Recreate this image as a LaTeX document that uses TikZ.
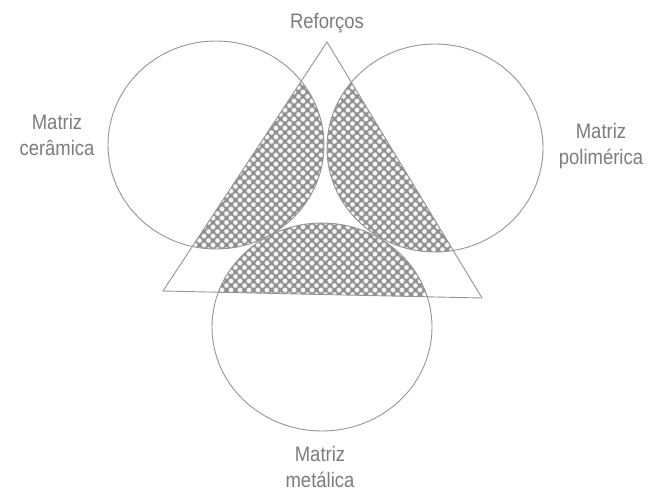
\documentclass[tikz,border=0pt]{standalone}
\usepackage{fontspec}
\newfontfamily\rotfont{Liberation Sans}[FakeStretch=0.88]
\usetikzlibrary{positioning}
\definecolor{linha}{HTML}{959595}
\definecolor{texto}{HTML}{7C7C7C}
\definecolor{trama}{HTML}{8E8E8E}
\tikzset{
  contorno/.style={draw=linha, line width=0.9pt},
  rotulo/.style={
    font=\rotfont\fontsize{21}{26}\selectfont,
    text=texto, align=center, inner sep=0pt,
  },
  bolinha/.style={fill=white!94!gray, draw=gray!70, line width=0.35pt},
}

\begin{document}
\begin{tikzpicture}[x=1pt, y=-1pt]
  \useasboundingbox (0,0) rectangle (651,491);

  % triangulo e centros das matrizes
  \coordinate (apice) at (327,42);
  \coordinate (baseE) at (163,291);
  \coordinate (baseD) at (482,298);
  \coordinate (cer) at (216,145);
  \coordinate (pol) at (435,148);
  \coordinate (met) at (322,327);

  % areas hachuradas
  \begin{scope}
    \clip (apice) -- (baseE) -- (baseD) -- cycle;
    \clip (cer) ellipse [x radius=108, y radius=104]
          (pol) ellipse [x radius=108, y radius=104]
          (met) ellipse [x radius=110, y radius=104];
    \fill[trama] (100,35) rectangle (550,305);
    \foreach \i in {0,...,50}
      \foreach \j in {0,...,30} {
        \path[bolinha] (105+9*\i, 38+9*\j) circle [radius=2.6];
        \path[bolinha] (109.5+9*\i, 42.5+9*\j) circle [radius=2.6];
      }
  \end{scope}

  \draw[contorno] (cer) ellipse [x radius=108, y radius=104];
  \draw[contorno] (pol) ellipse [x radius=108, y radius=104];
  \draw[contorno] (met) ellipse [x radius=110, y radius=104];
  \draw[contorno] (apice) -- (baseE) -- (baseD) -- cycle;

  \node[rotulo, above=9pt of apice] (reforcos) {Reforços};
  \node[rotulo] (ceramica) at (57,135) {Matriz\\cerâmica};
  \node[rotulo] (polimerica) at (601,146) {Matriz\\polimérica};
  \node[rotulo] (metalica) at (320,467) {Matriz\\metálica};
\end{tikzpicture}
\end{document}
